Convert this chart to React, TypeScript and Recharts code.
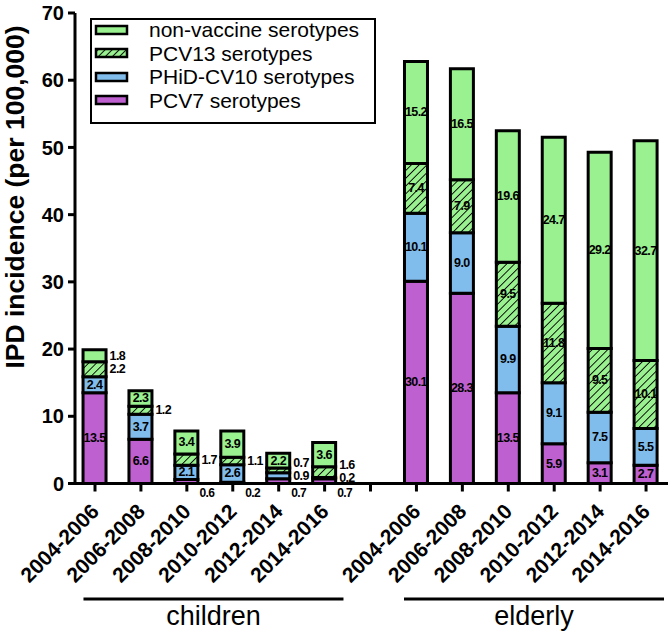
import React from 'react';
import { BarChart, Bar, XAxis, YAxis, LabelList, Legend } from 'recharts';

const FONT = '"Liberation Sans", Arial, Helvetica, sans-serif';

const periods = ['2004-2006', '2006-2008', '2008-2010', '2010-2012', '2012-2014', '2014-2016'];
const groups = ['children', 'elderly'];

// first six: children, last six: elderly
const pcv7 = [13.5, 6.6, 0.6, 0.2, 0.7, 0.7, 30.1, 28.3, 13.5, 5.9, 3.1, 2.7];
const phid = [2.4, 3.7, 2.1, 2.6, 0.9, 0.2, 10.1, 9.0, 9.9, 9.1, 7.5, 5.5];
const pcv13 = [2.2, 1.2, 1.7, 1.1, 0.7, 1.6, 7.4, 7.9, 9.5, 11.8, 9.5, 10.1];
const nonVaccine = [1.8, 2.3, 3.4, 3.9, 2.2, 3.6, 15.2, 16.5, 19.6, 24.7, 29.2, 32.7];

const yTicks = [0, 10, 20, 30, 40, 50, 60, 70];

const GREEN = '#9AF190';
const BLUE = '#80BDEC';
const PURPLE = '#BE60CF';

// one empty slot between the two groups
const data = pcv7.map((_, i) => ({
  pos: i < 6 ? i : i + 1,
  group: i < 6 ? 0 : 1,
  period: periods[i % 6],
  pcv7: pcv7[i],
  phid: phid[i],
  pcv13: pcv13[i],
  nv: nonVaccine[i],
}));
const tickLabels = [...periods, '', ...periods];
const xTicks = tickLabels.map((_, i) => i);
const groupTicks = [2.58, 9.56];

const series = [
  { key: 'pcv7', name: 'PCV7 serotypes', fill: PURPLE },
  { key: 'phid', name: 'PHiD-CV10 serotypes', fill: BLUE },
  { key: 'pcv13', name: 'PCV13 serotypes', fill: 'url(#hatch)' },
  { key: 'nv', name: 'non-vaccine serotypes', fill: GREEN },
];

const labelStyle = { fontFamily: FONT, fontWeight: 'bold' as const, fill: '#000', letterSpacing: -0.6 };

// draws all four segment values of one bar, placed from the top segment's geometry
const SegmentLabels = (props: any) => {
  const vb = props.viewBox && props.viewBox.width != null ? props.viewBox : props;
  const d = data[props.index];
  if (!d) return null;
  const h = Math.abs(vb.height);
  const top = vb.height < 0 ? vb.y + vb.height : vb.y;
  const k = h / d.nv;
  const base = top + h + (d.pcv7 + d.phid + d.pcv13) * k;
  const cx = vb.x + vb.width / 2;
  const right = vb.x + vb.width + 3.5;
  let cum = 0;
  let lastOut = Infinity;
  const out: any[] = [];
  series.forEach((s) => {
    const v = (d as any)[s.key] as number;
    const mid = base - (cum + v / 2) * k;
    cum += v;
    const txt = v.toFixed(1);
    if (v >= 5 || (v >= 2 && s.key !== 'pcv13')) {
      out.push(
        <text key={s.key} x={cx} y={mid} textAnchor="middle" dominantBaseline="central" fontSize={12.5} style={labelStyle}>
          {txt}
        </text>
      );
    } else if (s.key === 'pcv7') {
      out.push(
        <text key={s.key} x={cx + 13} y={base + 9} textAnchor="start" dominantBaseline="central" fontSize={12} style={labelStyle}>
          {txt}
        </text>
      );
    } else {
      const ly = Math.min(mid, lastOut - 13);
      lastOut = ly;
      out.push(
        <text key={s.key} x={right} y={ly} textAnchor="start" dominantBaseline="central" fontSize={12.5} style={labelStyle}>
          {txt}
        </text>
      );
    }
  });
  return <g>{out}</g>;
};

const PeriodTick = ({ x, y, payload }: any) => {
  const ax = x;
  const ay = y + 14;
  return (
    <text
      x={ax}
      y={ay}
      transform={`rotate(-45 ${ax} ${ay})`}
      textAnchor="end"
      dominantBaseline="central"
      fontSize={21}
      fontWeight="bold"
      fontFamily={FONT}
      fill="#000"
    >
      {tickLabels[payload.value]}
    </text>
  );
};

const GroupTick = ({ x, y, payload }: any) => {
  const idx = groupTicks.indexOf(payload.value);
  return (
    <g>
      <line x1={x - 130} x2={x + 130} y1={y + 45.5} y2={y + 45.5} stroke="#000" strokeWidth={3} />
      <text x={x} y={y + 71} textAnchor="middle" fontSize={27} fontFamily={FONT} fill="#000">
        {groups[idx]}
      </text>
    </g>
  );
};

const YLabel = () => (
  <text
    x={15}
    y={197}
    transform="rotate(-90 15 197)"
    textAnchor="middle"
    dominantBaseline="central"
    fontSize={26.5}
    fontWeight="bold"
    fontFamily={FONT}
    fill="#000"
  >
    IPD incidence (per 100,000)
  </text>
);

const Swatch = ({ fill }: { fill: string }) => (
  <svg width={36} height={14} style={{ display: 'block' }}>
    <defs>
      <pattern id="hatchLegend" patternUnits="userSpaceOnUse" width={5} height={5} patternTransform="rotate(45)">
        <rect width={5} height={5} fill={GREEN} />
        <line x1={0} y1={0} x2={0} y2={5} stroke="#000" strokeWidth={1.8} />
      </pattern>
    </defs>
    <rect x={2} y={3} width={31} height={8} fill={fill === 'url(#hatch)' ? 'url(#hatchLegend)' : fill} stroke="#000" strokeWidth={2.5} />
  </svg>
);

const LegendBox = () => (
  <div
    style={{
      width: 286,
      height: 106,
      border: '2.5px solid #000',
      boxSizing: 'border-box',
      fontFamily: FONT,
      fontSize: 21,
      color: '#000',
      background: '#fff',
      paddingLeft: 2,
      paddingTop: 0,
    }}
  >
    {[...series].reverse().map((s, i) => (
      <div
        key={s.key}
        style={{ display: 'flex', alignItems: 'center', height: 23.5, lineHeight: '23.5px', marginTop: i === 0 ? -2 : 0 }}
      >
        <Swatch fill={s.fill} />
        <span style={{ marginLeft: 19, whiteSpace: 'nowrap' }}>{s.name}</span>
      </div>
    ))}
  </div>
);

export default function App() {
  return (
    <div style={{ position: 'absolute', left: 0, top: 0, width: 668, height: 636, background: '#fff', fontFamily: FONT }}>
      <BarChart width={668} height={636} data={data} margin={{ top: 13, right: 0, bottom: 0, left: 0 }}>
        <defs>
          <pattern id="hatch" patternUnits="userSpaceOnUse" width={5.5} height={5.5} patternTransform="rotate(45)">
            <rect width={5.5} height={5.5} fill={GREEN} />
            <line x1={0} y1={0} x2={0} y2={5.5} stroke="#000" strokeWidth={1.8} />
          </pattern>
        </defs>
        <XAxis
          dataKey="pos"
          type="number"
          domain={[-0.4355, 12.478]}
          allowDataOverflow
          ticks={xTicks}
          interval={0}
          height={70}
          tickSize={8}
          tickMargin={2}
          axisLine={{ stroke: '#000', strokeWidth: 3 }}
          tickLine={{ stroke: '#000', strokeWidth: 3 }}
          tick={<PeriodTick />}
        />
        <XAxis
          xAxisId="grp"
          dataKey="pos"
          type="number"
          domain={[-0.4355, 12.478]}
          allowDataOverflow
          ticks={groupTicks}
          interval={0}
          height={82.5}
          tickSize={0}
          tickMargin={0}
          axisLine={false}
          tickLine={false}
          tick={<GroupTick />}
        />
        <YAxis
          type="number"
          domain={[0, 70]}
          ticks={yTicks}
          interval={0}
          width={75}
          tickSize={7}
          tickMargin={4}
          axisLine={{ stroke: '#000', strokeWidth: 3 }}
          tickLine={{ stroke: '#000', strokeWidth: 3 }}
          tick={{ fill: '#000', fontSize: 20, fontWeight: 'bold', fontFamily: FONT }}
          label={<YLabel />}
        />
        <Legend
          layout="vertical"
          align="center"
          verticalAlign="middle"
          content={<LegendBox />}
          wrapperStyle={{ left: 90, top: 18, width: 286, height: 106 }}
        />
        {series.map((s) => (
          <Bar
            key={s.key}
            dataKey={s.key}
            name={s.name}
            stackId="a"
            fill={s.fill}
            stroke="#000"
            strokeWidth={3}
            barSize={23}
            isAnimationActive={false}
          >
            {s.key === 'nv' && <LabelList dataKey="nv" content={<SegmentLabels />} />}
          </Bar>
        ))}
      </BarChart>
    </div>
  );
}
